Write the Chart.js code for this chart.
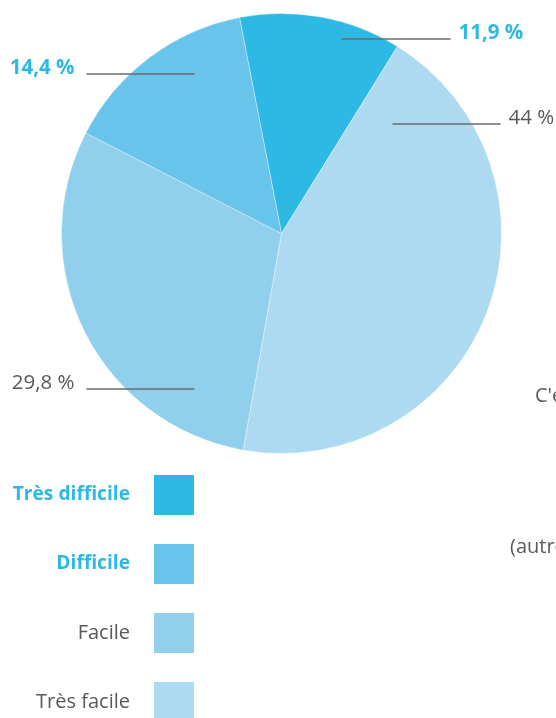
<!DOCTYPE html>
<html>
<head>
<meta charset="utf-8">
<script src="https://cdn.jsdelivr.net/npm/chart.js@4"></script>
<style>
  body { margin: 0; background: #fff; }
  #wrap { width: 556px; height: 718px; overflow: hidden; }
</style>
</head>
<body>
<div id="wrap"><canvas id="myChart" width="556" height="718"></canvas></div>
<script>
// data (legend order)
const categories = ['Très difficile', 'Difficile', 'Facile', 'Très facile']
const values = [11.9, 14.4, 29.8, 44]
const valueLabels = ['11,9 %', '14,4 %', '29,8 %', '44 %']
// order the slices run clockwise from the top
const pieOrder = [0, 3, 2, 1]

const colors = ['#2db9e3', '#68c4ea', '#90d0ec', '#addaf0']
const textBlue = '#2db9e3'
const textGrey = '#595959'
const boldLabels = [true, true, false, false]

// where each value label and its leader line go, relative to the pie centre
const callouts = [
  { x1: 60, x2: 169, y: -195, side: 'right' },
  { x1: -195, x2: -87, y: -160, side: 'left' },
  { x1: -195, x2: -87, y: 155, side: 'left' },
  { x1: 111, x2: 219, y: -110, side: 'right' }
]

const ctx = document.getElementById('myChart')

const extras = {
  id: 'extras',
  afterDraw(chart) {
    const c = chart.ctx
    const arc = chart.getDatasetMeta(0).data[0]
    const cx = arc.x, cy = arc.y
    c.save()

    // leader lines + value labels
    callouts.forEach((o, i) => {
      c.strokeStyle = '#6b6b6b'
      c.lineWidth = 1.3
      c.beginPath()
      c.moveTo(cx + o.x1, cy + o.y + 0.5)
      c.lineTo(cx + o.x2, cy + o.y + 0.5)
      c.stroke()
      c.font = (boldLabels[i] ? 'bold ' : '') + '20.5px "Open Sans"'
      c.fillStyle = boldLabels[i] ? textBlue : textGrey
      c.textBaseline = 'middle'
      if (o.side == 'right') {
        c.textAlign = 'left'
        c.fillText(valueLabels[i], cx + o.x2 + 8, cy + o.y - 5)
      } else {
        c.textAlign = 'right'
        c.fillText(valueLabels[i], cx + o.x1 - 12, cy + o.y - 5)
      }
    })

    // legend
    categories.forEach((name, i) => {
      const top = 475 + i * 69
      c.fillStyle = colors[i]
      c.fillRect(154, top, 40, 40)
      c.font = boldLabels[i] ? 'bold 19.2px "Open Sans"' : '20px "Open Sans"'
      c.fillStyle = boldLabels[i] ? textBlue : textGrey
      c.textAlign = 'right'
      c.textBaseline = 'middle'
      c.fillText(name, 130, top + 20)
    })

    // text cut off by the right edge in the original
    c.font = '20px "Open Sans"'
    c.fillStyle = textGrey
    c.textAlign = 'left'
    c.fillText("C'est", 535, 396)
    c.fillText('(autres)', 510, 547)
    c.restore()
  }
}

new Chart(ctx, {
  type: 'pie',
  data: {
    labels: pieOrder.map(i => categories[i]),
    datasets: [{
      data: pieOrder.map(i => values[i]),
      backgroundColor: pieOrder.map(i => colors[i]),
      borderColor: 'rgba(255,255,255,0.35)',
      borderWidth: 1
    }]
  },
  options: {
    responsive: false,
    animation: false,
    rotation: -11,
    layout: { padding: { left: 61, right: 54, top: 13, bottom: 264 } },
    plugins: {
      legend: { display: false },
      tooltip: { enabled: false }
    }
  },
  plugins: [extras]
})
</script>
</body>
</html>
